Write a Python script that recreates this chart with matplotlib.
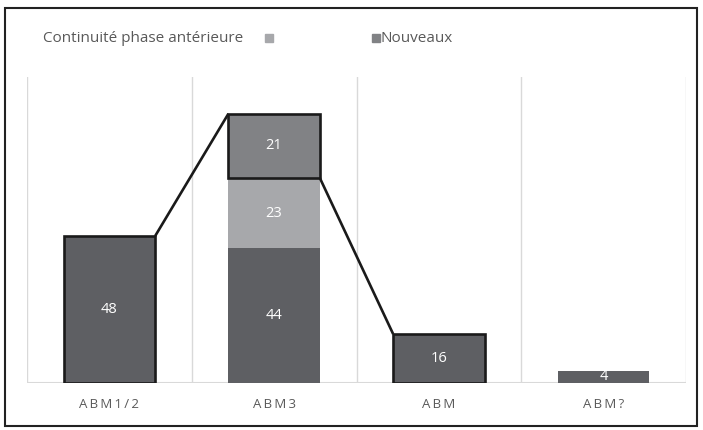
import matplotlib
matplotlib.use("Agg")
import matplotlib.pyplot as plt
from matplotlib.patches import Rectangle
import numpy as np

# Data
categories = ["ABM1/2", "ABM3", "ABM", "ABM?"]
base_values = [48, 44, 16, 4]          # dark segment
continuity_values = [0, 23, 0, 0]      # Continuité phase antérieure
new_values = [0, 21, 0, 0]             # Nouveaux
outlined = [True, False, True, False]  # bars drawn with a black frame

DARK = "#5e5f63"
LIGHT = "#a7a8ab"
MID = "#818285"
TEXT = "#595959"
GRID = "#d9d9d9"

plt.rcParams["font.family"] = ["Open Sans", "DejaVu Sans"]

fig = plt.figure(figsize=(7.03, 4.30), dpi=100)
ax = fig.add_axes([27 / 703, 47 / 430, 659 / 703, 306 / 430])

x = np.arange(len(categories))
w = 0.555

bars_base = ax.bar(x, base_values, w, color=DARK, edgecolor="none", zorder=2)
for b, flag in zip(bars_base, outlined):
    if flag:
        b.set_edgecolor("#1a1a1a")
        b.set_linewidth(1.9)
        b.set_zorder(3)
bottom2 = np.array(base_values)
bars_cont = ax.bar(x, continuity_values, w, bottom=bottom2, color=LIGHT,
                   edgecolor="none", zorder=2)
bottom3 = bottom2 + np.array(continuity_values)
bars_new = ax.bar(x, new_values, w, bottom=bottom3, color=MID,
                  edgecolor="none", zorder=2)
bars_new[1].set_edgecolor("#1a1a1a")
bars_new[1].set_linewidth(1.9)
bars_new[1].set_zorder(3)

# value labels
for bars, vals, bots in [(bars_base, base_values, np.zeros(4)),
                         (bars_cont, continuity_values, bottom2),
                         (bars_new, new_values, bottom3)]:
    for b, v, bt in zip(bars, vals, bots):
        if v > 0:
            ax.text(b.get_x() + w / 2, bt + v / 2, str(v), ha="center",
                    va="center", color="white", fontsize=10.5, zorder=5)

# connector lines between bars
ax.plot([0 + w / 2, 1 - w / 2], [base_values[0], bottom3[1] + new_values[1]],
        color="#1a1a1a", lw=1.9, zorder=4, solid_capstyle="butt")
ax.plot([1 + w / 2, 2 - w / 2], [bottom3[1], base_values[2]],
        color="#1a1a1a", lw=1.9, zorder=4, solid_capstyle="butt")

ax.set_xlim(-0.5, len(categories) - 0.5)
ax.set_ylim(0, 100)
for xv in np.arange(-0.5, len(categories), 1.0):
    ax.axvline(xv, color=GRID, lw=1.0, zorder=1)
ax.axhline(0, color=GRID, lw=1.5, zorder=1)
for s in ax.spines.values():
    s.set_visible(False)
ax.set_yticks([])
ax.set_xticks(x)
# spaced-out category labels
ax.set_xticklabels(["\u2009".join(c) for c in categories], color=TEXT,
                   fontsize=9.5)
ax.tick_params(axis="x", length=0, pad=11)

# legend
fig.text(43 / 703, 1 - 38 / 430, "Continuité phase antérieure", color=TEXT,
         fontsize=11, va="center", ha="left")
fig.patches.append(Rectangle((265 / 703, 1 - 42 / 430), 8 / 703, 8 / 430,
                             transform=fig.transFigure, color=LIGHT))
fig.patches.append(Rectangle((372 / 703, 1 - 42 / 430), 8 / 703, 8 / 430,
                             transform=fig.transFigure, color=MID))
fig.text(381 / 703, 1 - 38 / 430, "Nouveaux", color=TEXT,
         fontsize=11, va="center", ha="left")

# outer frame
fig.patches.append(Rectangle((5 / 703, 4 / 430), 692 / 703, 418 / 430,
                             transform=fig.transFigure, fill=False,
                             edgecolor="#222222", lw=1.5))

fig.savefig("out.png", dpi=100)
